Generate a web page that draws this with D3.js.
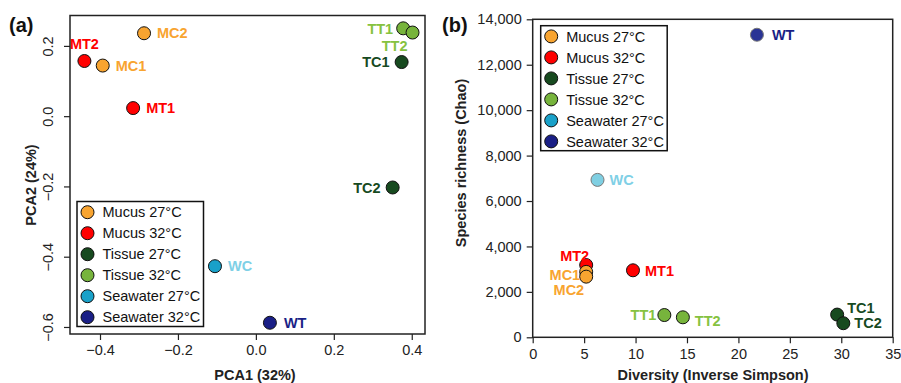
<!DOCTYPE html>
<html>
<head>
<meta charset="utf-8">
<script src="https://cdn.jsdelivr.net/npm/d3@7"></script>
<style>
  body { margin: 0; background: #fff; }
  svg { font-family: "Liberation Sans", Arial, sans-serif; }
</style>
</head>
<body>
<svg id="chart" width="901" height="383"></svg>
<script>
// sample data
const samples = ["MT2", "MC1", "MC2", "MT1", "TT1", "TT2", "TC1", "TC2", "WC", "WT"];
const groups = ["Mucus 32°C", "Mucus 27°C", "Mucus 27°C", "Mucus 32°C", "Tissue 32°C",
  "Tissue 32°C", "Tissue 27°C", "Tissue 27°C", "Seawater 27°C", "Seawater 32°C"];
const pca1 = [-0.44, -0.393, -0.287, -0.315, 0.378, 0.402, 0.374, 0.351, -0.105, 0.036];
const pca2 = [0.157, 0.144, 0.236, 0.023, 0.250, 0.238, 0.154, -0.203, -0.427, -0.588];
const invSimpson = [5.2, 5.2, 5.2, 9.75, 12.8, 14.6, 29.6, 30.2, 6.3, 21.8];
const chao = [3180, 2880, 2670, 2950, 980, 880, 1000, 620, 6930, 13320];

const legendGroups = ["Mucus 27°C", "Mucus 32°C", "Tissue 27°C", "Tissue 32°C", "Seawater 27°C", "Seawater 32°C"];
const pcaXTicks = [-0.4, -0.2, 0.0, 0.2, 0.4];
const pcaYTicks = [0.2, 0.0, -0.2, -0.4, -0.6];
const divXTicks = [0, 5, 10, 15, 20, 25, 30, 35];
const chaoYTicks = [0, 2000, 4000, 6000, 8000, 10000, 12000, 14000];

// styles
const fillA = {
  "Mucus 27°C": "#f8a430", "Mucus 32°C": "#ff0000", "Tissue 27°C": "#174a1f",
  "Tissue 32°C": "#77b43c", "Seawater 27°C": "#19a1c9", "Seawater 32°C": "#1a1f86"
};
const fillB = Object.assign({}, fillA, { "Seawater 27°C": "#7fcfe2", "Seawater 32°C": "#2a3495" });
const labelColor = {
  "Mucus 27°C": "#f8a430", "Mucus 32°C": "#ff0000", "Tissue 27°C": "#174a1f",
  "Tissue 32°C": "#86c240", "Seawater 27°C": "#7fd0e6", "Seawater 32°C": "#1a1f86"
};
const FS = 14.5;

// label placement (offset from point, anchor)
const labelPosA = {
  MT2: [0, -17, "middle"], MC1: [13, 0, "start"], MC2: [13, 0, "start"], MT1: [13, 0, "start"],
  TT1: [-10, 0, "end"], TT2: [-5, 13, "end"], TC1: [-12, 0, "end"], TC2: [-12, 0, "end"],
  WC: [13, 0, "start"], WT: [14, 0, "start"]
};
const labelPosB = {
  MT2: [3, -9, "end"], MC1: [-6, 3, "end"], MC2: [-2, 13, "end"], MT1: [12, 0, "start"],
  TT1: [-8, 0, "end"], TT2: [12, 3, "start"], TC1: [10, -7, "start"], TC2: [11, 0, "start"],
  WC: [12, 0, "start"], WT: [15, 0, "start"]
};

const svg = d3.select("#chart");
const R = 6.5;

const rows = samples.map((s, i) => ({
  name: s, group: groups[i], p1: pca1[i], p2: pca2[i], inv: invSimpson[i], chao: chao[i]
}));

function drawPanel(cfg) {
  const g = svg.append("g");
  const x = d3.scaleLinear().domain(cfg.xDomain).range([cfg.left, cfg.right]);
  const y = d3.scaleLinear().domain(cfg.yDomain).range([cfg.bottom, cfg.top]);

  // x axis
  const xa = g.append("g")
    .attr("transform", `translate(0,${cfg.bottom})`)
    .call(d3.axisBottom(x).tickValues(cfg.xTicks).tickFormat(cfg.xFormat).tickSize(6).tickPadding(5));
  xa.select(".domain").remove();
  xa.selectAll("line").attr("stroke", "#222").attr("stroke-width", 1.2);
  xa.selectAll("text").attr("font-size", FS).attr("fill", "#222").attr("font-family", null);

  // y axis
  const ya = g.append("g")
    .attr("transform", `translate(${cfg.left},0)`)
    .call(d3.axisLeft(y).tickValues(cfg.yTicks).tickFormat(cfg.yFormat).tickSize(6).tickPadding(5));
  ya.select(".domain").remove();
  ya.selectAll("line").attr("stroke", "#222").attr("stroke-width", 1.2);
  ya.selectAll("text").attr("font-size", FS).attr("fill", "#222").attr("font-family", null);
  if (cfg.rotateY) {
    ya.selectAll("text")
      .attr("transform", "rotate(-90)")
      .attr("x", 0).attr("y", -17).attr("dy", null)
      .attr("text-anchor", "middle");
  }

  // box
  g.append("rect")
    .attr("x", cfg.left).attr("y", cfg.top)
    .attr("width", cfg.right - cfg.left).attr("height", cfg.bottom - cfg.top)
    .attr("fill", "none").attr("stroke", "#222").attr("stroke-width", 1.5);

  // titles
  g.append("text")
    .attr("x", cfg.xTitleX).attr("y", 380)
    .attr("text-anchor", "middle").attr("font-size", FS).attr("font-weight", "bold")
    .attr("fill", "#222").text(cfg.xTitle);
  g.append("text")
    .attr("transform", `translate(${cfg.yTitleX},${cfg.yTitleY}) rotate(-90)`)
    .attr("text-anchor", "middle").attr("font-size", FS).attr("font-weight", "bold")
    .attr("fill", "#222").text(cfg.yTitle);
  g.append("text")
    .attr("x", cfg.tagX).attr("y", 32)
    .attr("font-size", 20).attr("font-weight", "bold").attr("fill", "#111").text(cfg.tag);

  // legend
  const lg = g.append("g").attr("transform", `translate(${cfg.legX},${cfg.legY})`);
  lg.append("rect").attr("width", 126.5).attr("height", 125)
    .attr("fill", "#fff").attr("stroke", "#111").attr("stroke-width", 1.5);
  const item = lg.selectAll(".item").data(legendGroups).enter().append("g")
    .attr("transform", (d, i) => `translate(0,${10.7 + i * 21})`);
  item.append("circle").attr("cx", 10.5).attr("r", R)
    .attr("fill", (d) => fillA[d]).attr("stroke", "#111").attr("stroke-width", 1);
  item.append("text").attr("x", 25.5).attr("dy", "0.36em")
    .attr("font-size", FS).attr("fill", "#111").text((d) => d);

  // points
  g.selectAll(".pt").data(rows).enter().append("circle")
    .attr("cx", (d) => x(cfg.xv(d))).attr("cy", (d) => y(cfg.yv(d))).attr("r", R)
    .attr("fill", (d) => cfg.fill[d.group])
    .attr("stroke", (d) => cfg.strokeOf(d)).attr("stroke-width", 1);

  // labels
  g.selectAll(".lb").data(rows).enter().append("text")
    .attr("x", (d) => x(cfg.xv(d)) + cfg.pos[d.name][0])
    .attr("y", (d) => y(cfg.yv(d)) + cfg.pos[d.name][1])
    .attr("dy", "0.36em")
    .attr("text-anchor", (d) => cfg.pos[d.name][2])
    .attr("font-size", FS).attr("font-weight", "bold")
    .attr("fill", (d) => labelColor[d.group])
    .text((d) => d.name);
}

drawPanel({
  left: 70, right: 425, top: 15.5, bottom: 334,
  xDomain: [-0.477, 0.434], yDomain: [-0.62, 0.2865],
  xTicks: pcaXTicks, yTicks: pcaYTicks,
  xFormat: d3.format(".1f"), yFormat: d3.format(".1f"), rotateY: true,
  xv: (d) => d.p1, yv: (d) => d.p2,
  fill: fillA, strokeOf: () => "#111", pos: labelPosA,
  xTitle: "PCA1 (32%)", xTitleX: 255,
  yTitle: "PCA2 (24%)", yTitleX: 36, yTitleY: 185,
  tag: "(a)", tagX: 9,
  legX: 77, legY: 201.5
});

drawPanel({
  left: 532.7, right: 892.7, top: 19.3, bottom: 337.3,
  xDomain: [0, 35], yDomain: [0, 14000],
  xTicks: divXTicks, yTicks: chaoYTicks,
  xFormat: d3.format("d"), yFormat: d3.format(","), rotateY: false,
  xv: (d) => d.inv, yv: (d) => d.chao,
  fill: fillB, strokeOf: (d) => d.group.startsWith("Seawater") ? "#777" : "#111", pos: labelPosB,
  xTitle: "Diversity (Inverse Simpson)", xTitleX: 713,
  yTitle: "Species richness (Chao)", yTitleX: 466, yTitleY: 163,
  tag: "(b)", tagX: 442,
  legX: 540.7, legY: 25.7
});
</script>
</body>
</html>
